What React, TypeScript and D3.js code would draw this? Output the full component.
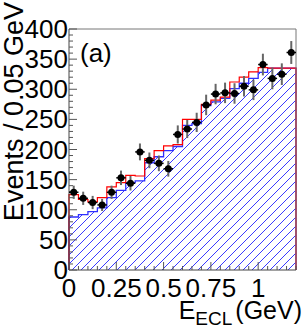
import * as d3 from 'd3'

// 24 bins of 0.05 GeV from 0 to 1.2
const binWidth = 0.05
const dataCounts = [129, 119, 112, 108, 129, 153, 144, 196, 182, 177, 168, 225, 234, 245, 274, 292, 294, 293, 305, 299, 341, 318, 325, 361]
const dataErrors = [11, 11, 11, 10, 11, 12, 12, 14, 13, 13, 13, 15, 15, 16, 17, 17, 17, 17, 17, 17, 18, 18, 18, 19]
const bkgCounts = [88, 92, 97, 103, 120, 132, 145, 148, 178, 188, 198, 205, 240, 243, 273, 279, 285, 301, 310, 318, 328, 335, 335, 335]
const totalCounts = [125, 117, 113, 120, 138, 145, 157, 156, 185, 198, 206, 208, 250, 250, 275, 282, 287, 312, 320, 329, 336, 335, 335, 335]
const xTickValues = [0, 0.25, 0.5, 0.75, 1]
const xTickLabels = ['0', '0.25', '0.5', '0.75', '1']
const yTickValues = [0, 50, 100, 150, 200, 250, 300, 350, 400]

const W = 307
const H = 327
const left = 69
const right = 296
const top = 29
const bottom = 270
const font = '"Liberation Sans", Arial, Helvetica, sans-serif'

export default function App() {
  const x = d3.scaleLinear().domain([0, 1.2]).range([left, right])
  const y = d3.scaleLinear().domain([0, 400]).range([bottom, top])

  const stepPts = (vals: number[]) => [
    ...vals.map((v, i) => [i * binWidth, v] as [number, number]),
    [vals.length * binWidth, vals[vals.length - 1]] as [number, number],
  ]

  const area = d3
    .area<[number, number]>()
    .x((d) => x(d[0]))
    .y0(y(0))
    .y1((d) => y(d[1]))
    .curve(d3.curveStepAfter)

  const outline = (vals: number[]) => {
    const line = d3
      .line<[number, number]>()
      .x((d) => x(d[0]))
      .y((d) => y(d[1]))
      .curve(d3.curveStepAfter)
    return `M${x(0)},${y(0)}L${line(stepPts(vals))!.slice(1)}L${x(1.2)},${y(0)}`
  }

  const minorX = d3.range(0, 1.2001, 0.05)
  const minorY = d3.range(0, 401, 10)

  return (
    <svg width={W} height={H} style={{ position: 'absolute', left: 0, top: 0, background: '#fff' }}>
      <defs>
        <pattern id="hatch" patternUnits="userSpaceOnUse" width={9} height={9}>
          <path d="M-1,10 L10,-1 M-1,1 L1,-1 M8,10 L10,8" stroke="#3a3aff" strokeWidth={1} />
        </pattern>
      </defs>

      {/* background histogram */}
      <path d={area(stepPts(bkgCounts))!} fill="url(#hatch)" stroke="none" />
      <path d={outline(bkgCounts)} fill="none" stroke="#2f2fff" strokeWidth={1.3} />
      {/* total fit */}
      <path d={outline(totalCounts)} fill="none" stroke="#f00" strokeWidth={1.2} />

      {/* frame */}
      <line x1={left} x2={right} y1={top} y2={top} stroke="#777" strokeWidth={1} />
      <line x1={right} x2={right} y1={top} y2={bottom} stroke="#777" strokeWidth={1} />
      <line x1={left} x2={left} y1={top} y2={bottom} stroke="#444" strokeWidth={1} />
      <line x1={left} x2={right} y1={bottom} y2={bottom} stroke="#444" strokeWidth={1} />

      {/* y ticks */}
      {minorY.map((v) => (
        <line key={'my' + v} x1={left} x2={left + (v % 50 === 0 ? 8 : 4)} y1={y(v)} y2={y(v)} stroke="#555" strokeWidth={1} />
      ))}
      {/* x ticks */}
      {minorX.map((v, i) => (
        <line key={'mx' + i} x1={x(v)} x2={x(v)} y1={bottom} y2={bottom - (i % 5 === 0 ? 8 : 4)} stroke="#555" strokeWidth={1} />
      ))}

      {/* data points */}
      {dataCounts.map((v, i) => {
        const cx = x((i + 0.5) * binWidth)
        return (
          <g key={'d' + i}>
            <line x1={cx} x2={cx} y1={y(v - dataErrors[i])} y2={y(v + dataErrors[i])} stroke="#666" strokeWidth={2} />
            <line x1={x(i * binWidth)} x2={x((i + 1) * binWidth)} y1={y(v)} y2={y(v)} stroke="#000" strokeWidth={1.5} />
            <circle cx={cx} cy={y(v)} r={3.5} fill="#000" />
          </g>
        )
      })}

      {/* tick labels */}
      <g fontFamily={font} fontSize={26} fill="#000">
        {yTickValues.map((v) => (
          <text key={'yl' + v} x={left - 1} y={y(v)} textAnchor="end" dominantBaseline="central">
            {v}
          </text>
        ))}
        {xTickValues.map((v, i) => (
          <text key={'xl' + v} x={x(v)} y={297} textAnchor="middle">
            {xTickLabels[i]}
          </text>
        ))}
      </g>

      {/* titles */}
      <g fontFamily={font} fill="#000">
        <text x={80} y={62} fontSize={26}>(a)</text>
        <text x={302} y={319} fontSize={25} textAnchor="end">
          E<tspan fontSize={19} dy={6}>ECL</tspan>
          <tspan dx={3} dy={-6}>(GeV)</tspan>
        </text>
        <text transform="translate(23,2) rotate(-90)" fontSize={27} textAnchor="end">
          Events / 0.05 GeV
        </text>
      </g>
    </svg>
  )
}
